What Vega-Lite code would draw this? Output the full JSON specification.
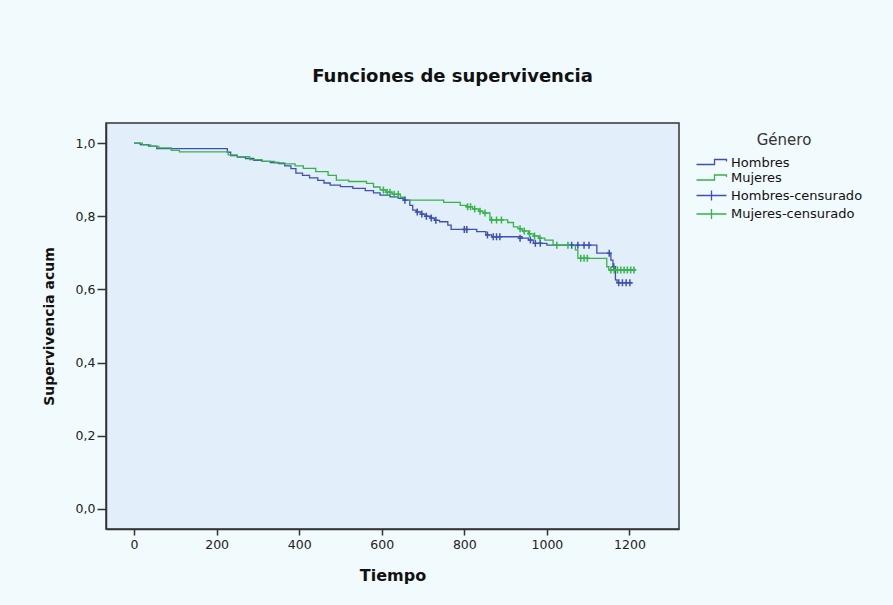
{
  "$schema": "https://vega.github.io/schema/vega-lite/v6.json",
  "width": 573,
  "height": 406,
  "autosize": {"type": "none"},
  "padding": {"left": 106, "top": 123, "right": 214, "bottom": 76},
  "background": "#F1FAFD",
  "title": {
    "text": "Funciones de supervivencia",
    "anchor": "middle",
    "frame": "bounds",
    "font": "DejaVu Sans",
    "fontSize": 18,
    "fontWeight": "bold",
    "color": "#111111",
    "baseline": "alphabetic",
    "offset": 23
  },
  "config": {
    "view": {"fill": "#E2EEF9", "stroke": "#333333", "strokeWidth": 1.5},
    "axis": {
      "grid": false,
      "domainColor": "#333333",
      "domainWidth": 1.5,
      "tickColor": "#333333",
      "tickWidth": 1.5,
      "labelFont": "DejaVu Sans",
      "labelFontSize": 12.5,
      "labelColor": "#222222",
      "titleFont": "DejaVu Sans",
      "titleFontWeight": "bold",
      "titleColor": "#111111"
    }
  },
  "datasets": {
    "curvas": [
      {"grupo": "Hombres", "t": 0, "S": 1.0},
      {"grupo": "Hombres", "t": 15, "S": 0.996},
      {"grupo": "Hombres", "t": 35, "S": 0.992},
      {"grupo": "Hombres", "t": 55, "S": 0.985},
      {"grupo": "Hombres", "t": 226, "S": 0.975},
      {"grupo": "Hombres", "t": 234, "S": 0.966},
      {"grupo": "Hombres", "t": 250, "S": 0.962},
      {"grupo": "Hombres", "t": 270, "S": 0.958},
      {"grupo": "Hombres", "t": 290, "S": 0.953},
      {"grupo": "Hombres", "t": 310, "S": 0.95},
      {"grupo": "Hombres", "t": 330, "S": 0.947},
      {"grupo": "Hombres", "t": 350, "S": 0.944},
      {"grupo": "Hombres", "t": 365, "S": 0.938},
      {"grupo": "Hombres", "t": 380, "S": 0.93},
      {"grupo": "Hombres", "t": 392, "S": 0.918},
      {"grupo": "Hombres", "t": 408, "S": 0.912},
      {"grupo": "Hombres", "t": 425, "S": 0.905},
      {"grupo": "Hombres", "t": 445, "S": 0.898},
      {"grupo": "Hombres", "t": 460, "S": 0.891},
      {"grupo": "Hombres", "t": 475, "S": 0.885},
      {"grupo": "Hombres", "t": 500, "S": 0.881},
      {"grupo": "Hombres", "t": 530, "S": 0.876},
      {"grupo": "Hombres", "t": 560, "S": 0.87},
      {"grupo": "Hombres", "t": 580, "S": 0.864},
      {"grupo": "Hombres", "t": 596, "S": 0.858},
      {"grupo": "Hombres", "t": 620, "S": 0.853},
      {"grupo": "Hombres", "t": 640, "S": 0.849},
      {"grupo": "Hombres", "t": 652, "S": 0.844},
      {"grupo": "Hombres", "t": 668, "S": 0.83},
      {"grupo": "Hombres", "t": 675, "S": 0.817},
      {"grupo": "Hombres", "t": 684, "S": 0.812},
      {"grupo": "Hombres", "t": 695, "S": 0.806},
      {"grupo": "Hombres", "t": 705, "S": 0.8},
      {"grupo": "Hombres", "t": 718, "S": 0.795},
      {"grupo": "Hombres", "t": 728, "S": 0.789},
      {"grupo": "Hombres", "t": 740, "S": 0.785},
      {"grupo": "Hombres", "t": 760, "S": 0.776},
      {"grupo": "Hombres", "t": 768, "S": 0.764},
      {"grupo": "Hombres", "t": 830, "S": 0.758},
      {"grupo": "Hombres", "t": 852, "S": 0.749},
      {"grupo": "Hombres", "t": 866, "S": 0.744},
      {"grupo": "Hombres", "t": 940, "S": 0.74},
      {"grupo": "Hombres", "t": 955, "S": 0.735},
      {"grupo": "Hombres", "t": 967, "S": 0.726},
      {"grupo": "Hombres", "t": 1000, "S": 0.721},
      {"grupo": "Hombres", "t": 1121, "S": 0.699},
      {"grupo": "Hombres", "t": 1155, "S": 0.68},
      {"grupo": "Hombres", "t": 1160, "S": 0.662},
      {"grupo": "Hombres", "t": 1166, "S": 0.626},
      {"grupo": "Hombres", "t": 1170, "S": 0.618},
      {"grupo": "Hombres", "t": 1208, "S": 0.618},
      {"grupo": "Mujeres", "t": 0, "S": 1.0},
      {"grupo": "Mujeres", "t": 20, "S": 0.995},
      {"grupo": "Mujeres", "t": 40, "S": 0.991},
      {"grupo": "Mujeres", "t": 60, "S": 0.987},
      {"grupo": "Mujeres", "t": 90, "S": 0.98},
      {"grupo": "Mujeres", "t": 110, "S": 0.976},
      {"grupo": "Mujeres", "t": 228, "S": 0.968},
      {"grupo": "Mujeres", "t": 250, "S": 0.963},
      {"grupo": "Mujeres", "t": 280, "S": 0.955},
      {"grupo": "Mujeres", "t": 310, "S": 0.95},
      {"grupo": "Mujeres", "t": 340, "S": 0.946},
      {"grupo": "Mujeres", "t": 365, "S": 0.943},
      {"grupo": "Mujeres", "t": 390, "S": 0.938},
      {"grupo": "Mujeres", "t": 410, "S": 0.931},
      {"grupo": "Mujeres", "t": 440, "S": 0.922},
      {"grupo": "Mujeres", "t": 470, "S": 0.912},
      {"grupo": "Mujeres", "t": 490, "S": 0.899},
      {"grupo": "Mujeres", "t": 520, "S": 0.895},
      {"grupo": "Mujeres", "t": 563, "S": 0.89},
      {"grupo": "Mujeres", "t": 580, "S": 0.88},
      {"grupo": "Mujeres", "t": 596, "S": 0.872},
      {"grupo": "Mujeres", "t": 610, "S": 0.866},
      {"grupo": "Mujeres", "t": 625, "S": 0.86},
      {"grupo": "Mujeres", "t": 645, "S": 0.852},
      {"grupo": "Mujeres", "t": 656, "S": 0.844},
      {"grupo": "Mujeres", "t": 750, "S": 0.838},
      {"grupo": "Mujeres", "t": 790, "S": 0.83},
      {"grupo": "Mujeres", "t": 806, "S": 0.826},
      {"grupo": "Mujeres", "t": 820, "S": 0.82},
      {"grupo": "Mujeres", "t": 835, "S": 0.814},
      {"grupo": "Mujeres", "t": 845, "S": 0.809},
      {"grupo": "Mujeres", "t": 862, "S": 0.79},
      {"grupo": "Mujeres", "t": 905, "S": 0.783},
      {"grupo": "Mujeres", "t": 919, "S": 0.771},
      {"grupo": "Mujeres", "t": 930, "S": 0.766},
      {"grupo": "Mujeres", "t": 940, "S": 0.76},
      {"grupo": "Mujeres", "t": 955, "S": 0.752},
      {"grupo": "Mujeres", "t": 968, "S": 0.746},
      {"grupo": "Mujeres", "t": 980, "S": 0.74},
      {"grupo": "Mujeres", "t": 995, "S": 0.735},
      {"grupo": "Mujeres", "t": 1015, "S": 0.721},
      {"grupo": "Mujeres", "t": 1069, "S": 0.708},
      {"grupo": "Mujeres", "t": 1075, "S": 0.685},
      {"grupo": "Mujeres", "t": 1145, "S": 0.662},
      {"grupo": "Mujeres", "t": 1150, "S": 0.653},
      {"grupo": "Mujeres", "t": 1215, "S": 0.653}
    ],
    "censurados": [
      {"grupo": "Hombres-censurado", "t": 656, "S": 0.844},
      {"grupo": "Hombres-censurado", "t": 686, "S": 0.812},
      {"grupo": "Hombres-censurado", "t": 697, "S": 0.806},
      {"grupo": "Hombres-censurado", "t": 708, "S": 0.8},
      {"grupo": "Hombres-censurado", "t": 720, "S": 0.795},
      {"grupo": "Hombres-censurado", "t": 731, "S": 0.789},
      {"grupo": "Hombres-censurado", "t": 800, "S": 0.764},
      {"grupo": "Hombres-censurado", "t": 806, "S": 0.764},
      {"grupo": "Hombres-censurado", "t": 856, "S": 0.749},
      {"grupo": "Hombres-censurado", "t": 870, "S": 0.744},
      {"grupo": "Hombres-censurado", "t": 878, "S": 0.744},
      {"grupo": "Hombres-censurado", "t": 886, "S": 0.744},
      {"grupo": "Hombres-censurado", "t": 935, "S": 0.74},
      {"grupo": "Hombres-censurado", "t": 960, "S": 0.735},
      {"grupo": "Hombres-censurado", "t": 972, "S": 0.726},
      {"grupo": "Hombres-censurado", "t": 984, "S": 0.726},
      {"grupo": "Hombres-censurado", "t": 1060, "S": 0.721},
      {"grupo": "Hombres-censurado", "t": 1075, "S": 0.721},
      {"grupo": "Hombres-censurado", "t": 1090, "S": 0.721},
      {"grupo": "Hombres-censurado", "t": 1102, "S": 0.721},
      {"grupo": "Hombres-censurado", "t": 1151, "S": 0.699},
      {"grupo": "Hombres-censurado", "t": 1162, "S": 0.662},
      {"grupo": "Hombres-censurado", "t": 1174, "S": 0.618},
      {"grupo": "Hombres-censurado", "t": 1183, "S": 0.618},
      {"grupo": "Hombres-censurado", "t": 1192, "S": 0.618},
      {"grupo": "Hombres-censurado", "t": 1201, "S": 0.618},
      {"grupo": "Mujeres-censurado", "t": 604, "S": 0.872},
      {"grupo": "Mujeres-censurado", "t": 613, "S": 0.866},
      {"grupo": "Mujeres-censurado", "t": 620, "S": 0.866},
      {"grupo": "Mujeres-censurado", "t": 630, "S": 0.86},
      {"grupo": "Mujeres-censurado", "t": 640, "S": 0.86},
      {"grupo": "Mujeres-censurado", "t": 808, "S": 0.826},
      {"grupo": "Mujeres-censurado", "t": 815, "S": 0.826},
      {"grupo": "Mujeres-censurado", "t": 825, "S": 0.82},
      {"grupo": "Mujeres-censurado", "t": 838, "S": 0.814},
      {"grupo": "Mujeres-censurado", "t": 850, "S": 0.809},
      {"grupo": "Mujeres-censurado", "t": 866, "S": 0.79},
      {"grupo": "Mujeres-censurado", "t": 878, "S": 0.79},
      {"grupo": "Mujeres-censurado", "t": 890, "S": 0.79},
      {"grupo": "Mujeres-censurado", "t": 935, "S": 0.766},
      {"grupo": "Mujeres-censurado", "t": 945, "S": 0.76},
      {"grupo": "Mujeres-censurado", "t": 958, "S": 0.752},
      {"grupo": "Mujeres-censurado", "t": 970, "S": 0.746},
      {"grupo": "Mujeres-censurado", "t": 983, "S": 0.74},
      {"grupo": "Mujeres-censurado", "t": 1024, "S": 0.721},
      {"grupo": "Mujeres-censurado", "t": 1051, "S": 0.721},
      {"grupo": "Mujeres-censurado", "t": 1082, "S": 0.685},
      {"grupo": "Mujeres-censurado", "t": 1090, "S": 0.685},
      {"grupo": "Mujeres-censurado", "t": 1098, "S": 0.685},
      {"grupo": "Mujeres-censurado", "t": 1155, "S": 0.653},
      {"grupo": "Mujeres-censurado", "t": 1163, "S": 0.653},
      {"grupo": "Mujeres-censurado", "t": 1171, "S": 0.653},
      {"grupo": "Mujeres-censurado", "t": 1179, "S": 0.653},
      {"grupo": "Mujeres-censurado", "t": 1187, "S": 0.653},
      {"grupo": "Mujeres-censurado", "t": 1195, "S": 0.653},
      {"grupo": "Mujeres-censurado", "t": 1203, "S": 0.653},
      {"grupo": "Mujeres-censurado", "t": 1211, "S": 0.653}
    ]
  },
  "layer": [
    {
      "data": {"name": "curvas"},
      "mark": {"type": "line", "interpolate": "step-after", "strokeWidth": 1.3},
      "encoding": {
        "x": {
          "field": "t",
          "type": "quantitative",
          "scale": {"domain": [-68, 1320], "nice": false, "zero": false},
          "axis": {
            "title": "Tiempo",
            "values": [0, 200, 400, 600, 800, 1000, 1200],
            "format": "d",
            "tickSize": 6,
            "labelPadding": 3,
            "titleFontSize": 16,
            "titlePadding": 17
          }
        },
        "y": {
          "field": "S",
          "type": "quantitative",
          "scale": {"domain": [-0.055, 1.055], "nice": false, "zero": false},
          "axis": {
            "title": "Supervivencia acum",
            "values": [0, 0.2, 0.4, 0.6, 0.8, 1.0],
            "labelExpr": "replace(format(datum.value, '.1f'), '.', ',')",
            "tickSize": 9,
            "labelPadding": 2,
            "titleFontSize": 14,
            "titlePadding": 19
          }
        },
        "color": {
          "field": "grupo",
          "type": "nominal",
          "scale": {
            "domain": ["Hombres", "Mujeres", "Hombres-censurado", "Mujeres-censurado"],
            "range": ["#3E50B4", "#36B34A", "#3E50B4", "#36B34A"]
          },
          "legend": {
            "title": "Género",
            "orient": "none",
            "legendX": 599,
            "legendY": 10,
            "padding": 0,
            "titleFont": "DejaVu Sans",
            "titleFontSize": 15,
            "titleFontWeight": "normal",
            "titleColor": "#333333",
            "titleAnchor": "middle",
            "titlePadding": 8,
            "labelFont": "DejaVu Sans",
            "labelFontSize": 13,
            "labelColor": "#111111",
            "labelOffset": 13,
            "symbolSize": 100,
            "rowPadding": 1.5,
            "encode": {
              "symbols": {
                "update": {
                  "shape": {"signal": "(datum.value === 'Hombres' || datum.value === 'Mujeres') ? 'M-3,0.4H0.6V-0.6H3V-0.2' : 'M-3,0H3M0,-1V1'"},
                  "stroke": {"scale": "color", "field": "value"},
                  "strokeWidth": {"value": 1.3},
                  "fill": {"value": "transparent"},
                  "size": {"value": 100},
                  "opacity": {"value": 1}
                }
              }
            }
          }
        }
      }
    },
    {
      "data": {"name": "censurados"},
      "mark": {"type": "point", "shape": "M-0.7,0H0.7M0,-1V1", "filled": false, "size": 49, "strokeWidth": 1.5, "opacity": 1},
      "encoding": {
        "x": {"field": "t", "type": "quantitative"},
        "y": {"field": "S", "type": "quantitative"},
        "color": {"field": "grupo", "type": "nominal"}
      }
    }
  ]
}
